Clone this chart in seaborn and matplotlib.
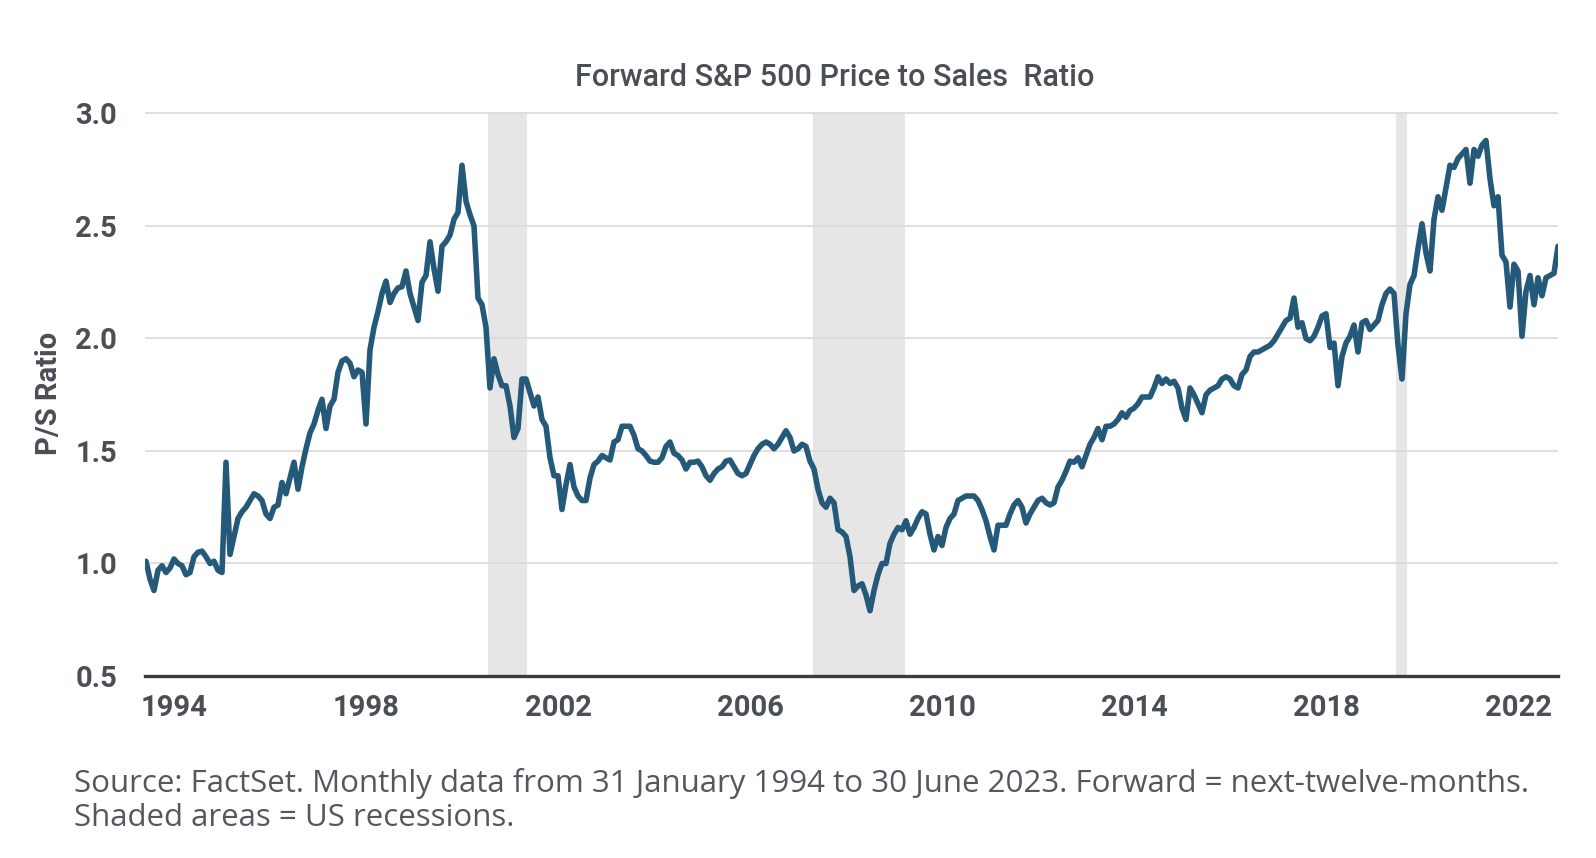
import numpy as np
import pandas as pd
import matplotlib
matplotlib.use("Agg")
import matplotlib.pyplot as plt
import seaborn as sns

# ---- data (monthly, Jan 1994 - Jun 2023) ----
y1994 = [1.01, 0.93, 0.88, 0.97, 0.99, 0.96, 0.98, 1.02, 1.00, 0.99, 0.95, 0.96]
y1995 = [1.03, 1.05, 1.055, 1.03, 1.00, 1.01, 0.97, 0.96, 1.45, 1.04, 1.12, 1.20]
y1996 = [1.23, 1.25, 1.28, 1.31, 1.30, 1.28, 1.22, 1.20, 1.25, 1.26, 1.36, 1.31]
y1997 = [1.38, 1.45, 1.33, 1.43, 1.51, 1.58, 1.62, 1.68, 1.73, 1.60, 1.70, 1.73]
y1998 = [1.85, 1.90, 1.91, 1.89, 1.83, 1.86, 1.85, 1.62, 1.95, 2.05, 2.12, 2.20]
y1999 = [2.255, 2.16, 2.20, 2.225, 2.23, 2.30, 2.20, 2.14, 2.08, 2.25, 2.28, 2.43]
y2000 = [2.31, 2.21, 2.41, 2.43, 2.46, 2.53, 2.56, 2.77, 2.61, 2.55, 2.50, 2.18]
y2001 = [2.15, 2.05, 1.78, 1.91, 1.84, 1.79, 1.79, 1.70, 1.56, 1.60, 1.82, 1.82]
y2002 = [1.76, 1.70, 1.74, 1.64, 1.61, 1.47, 1.39, 1.39, 1.24, 1.35, 1.44, 1.34]
y2003 = [1.30, 1.28, 1.28, 1.38, 1.44, 1.455, 1.48, 1.47, 1.46, 1.54, 1.55, 1.61]
y2004 = [1.61, 1.61, 1.57, 1.51, 1.50, 1.48, 1.455, 1.45, 1.45, 1.47, 1.52, 1.54]
y2005 = [1.49, 1.48, 1.46, 1.42, 1.45, 1.45, 1.455, 1.43, 1.39, 1.37, 1.40, 1.42]
y2006 = [1.43, 1.455, 1.46, 1.43, 1.40, 1.39, 1.40, 1.44, 1.48, 1.51, 1.53, 1.54]
y2007 = [1.53, 1.51, 1.53, 1.56, 1.59, 1.56, 1.50, 1.51, 1.53, 1.52, 1.455, 1.42]
y2008 = [1.33, 1.27, 1.25, 1.29, 1.27, 1.15, 1.14, 1.12, 1.03, 0.88, 0.90, 0.91]
y2009 = [0.86, 0.79, 0.88, 0.95, 1.00, 1.00, 1.09, 1.13, 1.16, 1.15, 1.19, 1.13]
y2010 = [1.16, 1.20, 1.23, 1.22, 1.13, 1.06, 1.12, 1.08, 1.16, 1.20, 1.22, 1.28]
y2011 = [1.29, 1.30, 1.30, 1.30, 1.28, 1.24, 1.19, 1.12, 1.06, 1.17, 1.17, 1.17]
y2012 = [1.22, 1.26, 1.28, 1.25, 1.18, 1.22, 1.25, 1.28, 1.29, 1.27, 1.26, 1.27]
y2013 = [1.34, 1.37, 1.41, 1.455, 1.45, 1.47, 1.43, 1.48, 1.53, 1.56, 1.60, 1.55]
y2014 = [1.61, 1.61, 1.62, 1.64, 1.67, 1.65, 1.68, 1.69, 1.71, 1.74, 1.74, 1.74]
y2015 = [1.78, 1.83, 1.80, 1.82, 1.80, 1.81, 1.78, 1.69, 1.64, 1.78, 1.75, 1.71]
y2016 = [1.67, 1.75, 1.77, 1.78, 1.79, 1.82, 1.83, 1.82, 1.79, 1.78, 1.84, 1.86]
y2017 = [1.92, 1.94, 1.94, 1.95, 1.96, 1.97, 1.99, 2.02, 2.05, 2.08, 2.09, 2.18]
y2018 = [2.05, 2.07, 2.00, 1.99, 2.01, 2.05, 2.10, 2.11, 1.96, 1.98, 1.79, 1.92]
y2019 = [1.98, 2.01, 2.06, 1.94, 2.07, 2.08, 2.04, 2.06, 2.08, 2.15, 2.20, 2.22]
y2020 = [2.20, 1.97, 1.82, 2.11, 2.24, 2.28, 2.40, 2.51, 2.38, 2.30, 2.53, 2.63]
y2021 = [2.57, 2.67, 2.77, 2.76, 2.80, 2.82, 2.84, 2.69, 2.84, 2.81, 2.86, 2.88]
y2022 = [2.71, 2.59, 2.63, 2.37, 2.34, 2.14, 2.33, 2.30, 2.01, 2.21, 2.28, 2.15]
y2023 = [2.27, 2.19, 2.27, 2.28, 2.29, 2.41]

ps_ratio = (y1994 + y1995 + y1996 + y1997 + y1998 + y1999 + y2000 + y2001 +
            y2002 + y2003 + y2004 + y2005 + y2006 + y2007 + y2008 + y2009 +
            y2010 + y2011 + y2012 + y2013 + y2014 + y2015 + y2016 + y2017 +
            y2018 + y2019 + y2020 + y2021 + y2022 + y2023)

# recession shading, decimal years (start, end)
rec_start = [2001.12, 2007.90, 2020.04]
rec_end = [2001.93, 2009.81, 2020.27]

tick_years = [1994, 1998, 2002, 2006, 2010, 2014, 2018, 2022]
y_ticks = [0.5, 1.0, 1.5, 2.0, 2.5, 3.0]

title = "Forward S&P 500 Price to Sales  Ratio"
ylabel = "P/S Ratio"
footer = ("Source: FactSet. Monthly data from 31 January 1994 to 30 June 2023. "
          "Forward = next-twelve-months.\nShaded areas = US recessions.")

# ---- build frame ----
months = np.arange(len(ps_ratio))
df = pd.DataFrame({"year": 1994 + months / 12.0, "ps": ps_ratio})

sns.set_theme(style="white")
plt.rcParams["font.family"] = ["Roboto", "DejaVu Sans"]

W, H = 1596, 858
fig = plt.figure(figsize=(W / 100, H / 100), dpi=100)
ax_left, ax_right = 145, 1558
ax_bottom = 676
ymax = 3.05
px_per_unit = 225.0
ax_top = ax_bottom - (ymax - 0.5) * px_per_unit
ax = fig.add_axes([ax_left / W, 1 - ax_bottom / H,
                   (ax_right - ax_left) / W, (ax_bottom - ax_top) / H])

text_col = "#4a4e55"
line_col = "#24597a"

for s, e in zip(rec_start, rec_end):
    ax.axvspan(s, e, ymin=0, ymax=(3.0 - 0.5) / (ymax - 0.5),
               color="#e6e6e6", lw=0, zorder=0.2)

sns.lineplot(data=df, x="year", y="ps", ax=ax, color=line_col,
             linewidth=4.0, zorder=3)

ax.set_xlim(1994 - 0.25 / 12, 1994 + 353 / 12)
ax.set_ylim(0.5, ymax)
ax.set_yticks(y_ticks)
ax.set_yticklabels([f"{v:.1f}" for v in y_ticks])
ax.set_xticks([y + 7 / 12 for y in tick_years])
ax.set_xticklabels([str(y) for y in tick_years])

ax.yaxis.grid(True, color="#dcdcdc", linewidth=1.3, zorder=0.5)
ax.xaxis.grid(False)
ax.set_axisbelow(True)

for sp in ["left", "right", "top"]:
    ax.spines[sp].set_visible(False)
ax.spines["bottom"].set_color("#3c3c3c")
ax.spines["bottom"].set_linewidth(2.4)
ax.spines["bottom"].set_zorder(4)

ax.tick_params(axis="both", length=0, labelsize=21, labelcolor=text_col)
ax.tick_params(axis="y", pad=20)
ax.tick_params(axis="x", pad=13)
for lab in ax.get_xticklabels() + ax.get_yticklabels():
    lab.set_fontweight("semibold")

ax.set_xlabel("")
ax.set_ylabel(ylabel, fontsize=21, color=text_col, fontweight="semibold")
ax.yaxis.set_label_coords(-0.058, (ax_bottom - 393) / (ax_bottom - ax_top))

fig.text(575 / W, 1 - 86 / H, title, ha="left", va="baseline",
         fontsize=22, color=text_col, fontweight="medium")

fig.text(74 / W, 1 - 768 / H, footer, ha="left", va="top",
         fontsize=22.5, color="#53585f", family=["Open Sans", "DejaVu Sans"],
         linespacing=1.17)

fig.savefig("out.png", dpi=100)
